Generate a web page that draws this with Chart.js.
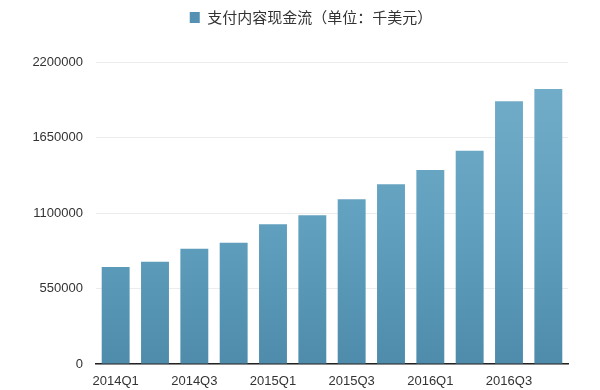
<!DOCTYPE html>
<html>
<head>
<meta charset="utf-8">
<script src="https://cdn.jsdelivr.net/npm/chart.js@4/dist/chart.umd.min.js"></script>
<style>
  html, body { margin: 0; padding: 0; background: #fff; }
  #wrap { width: 600px; height: 390px; }
</style>
</head>
<body>
<div id="wrap"><canvas id="chart"></canvas></div>
<script>
// Data
const quarters = ['2014Q1', '2014Q2', '2014Q3', '2014Q4', '2015Q1', '2015Q2', '2015Q3', '2015Q4', '2016Q1', '2016Q2', '2016Q3', '2016Q4'];
const cashFlow = [706000, 745000, 840000, 884000, 1018000, 1083000, 1200000, 1309000, 1413000, 1554000, 1914000, 2003000];
const yTicks = [0, 550000, 1100000, 1650000, 2200000];
const seriesName = '支付内容现金流（单位：千美元）';

// Bar fill: lighter at the top, darker at the bottom
function barFill(context) {
    const chart = context.chart;
    const area = chart.chartArea;
    if (!area) return '#5b9aba';
    const g = chart.ctx.createLinearGradient(0, area.top, 0, area.bottom);
    g.addColorStop(0, '#74afca');
    g.addColorStop(0.5, '#62a1bf');
    g.addColorStop(1, '#4f8cac');
    return g;
}

// Extra space under the legend
const legendGap = {
    id: 'legendGap',
    beforeInit(chart) {
        const fit = chart.legend.fit;
        chart.legend.fit = function() {
            fit.bind(this)();
            this.height += 27;
        };
    }
};

const ctx = document.getElementById('chart').getContext('2d');
new Chart(ctx, {
    type: 'bar',
    data: {
        labels: quarters,
        datasets: [{
            label: seriesName,
            data: cashFlow,
            backgroundColor: barFill,
            borderWidth: 0,
            barPercentage: 0.71,
            categoryPercentage: 1
        }]
    },
    plugins: [legendGap],
    options: {
        responsive: true,
        maintainAspectRatio: false,
        animation: false,
        layout: { padding: { left: 22, right: 0, top: 0, bottom: 0 } },
        plugins: {
            tooltip: { enabled: false },
            legend: {
                position: 'top',
                labels: {
                    boxWidth: 10,
                    boxHeight: 11,
                    color: '#333',
                    padding: 10,
                    font: { family: '"Noto Sans CJK SC", "Noto Sans", sans-serif', size: 15 },
                    generateLabels: function(chart) {
                        return [{
                            text: seriesName,
                            fillStyle: '#5591b2',
                            strokeStyle: '#5591b2',
                            lineWidth: 0,
                            fontColor: '#333',
                            datasetIndex: 0
                        }];
                    }
                }
            }
        },
        scales: {
            x: {
                grid: { display: false },
                border: { display: true, color: '#222', width: 1.5 },
                ticks: {
                    autoSkip: false,
                    maxRotation: 0,
                    padding: 2,
                    color: '#333',
                    font: { family: '"Liberation Sans", Arial, sans-serif', size: 13 },
                    callback: function(value, index) {
                        return index % 2 === 0 ? quarters[index] : '';
                    }
                },
                afterFit: function(scale) { scale.height = 26; }
            },
            y: {
                min: 0,
                max: 2200000,
                afterBuildTicks: function(scale) {
                    scale.ticks = yTicks.map(v => ({ value: v }));
                },
                grid: { color: '#ececec', lineWidth: 1, drawTicks: false },
                border: { display: false },
                ticks: {
                    padding: 13,
                    color: '#333',
                    font: { family: '"Liberation Sans", Arial, sans-serif', size: 13 },
                    callback: function(value) { return String(value); }
                },
                afterFit: function(scale) { scale.width = 74; }
            },
            yRight: {
                position: 'right',
                min: 0,
                max: 2200000,
                grid: { display: false, drawTicks: false },
                border: { display: false },
                ticks: { display: false },
                afterFit: function(scale) { scale.width = 32; }
            }
        }
    }
});
</script>
</body>
</html>
